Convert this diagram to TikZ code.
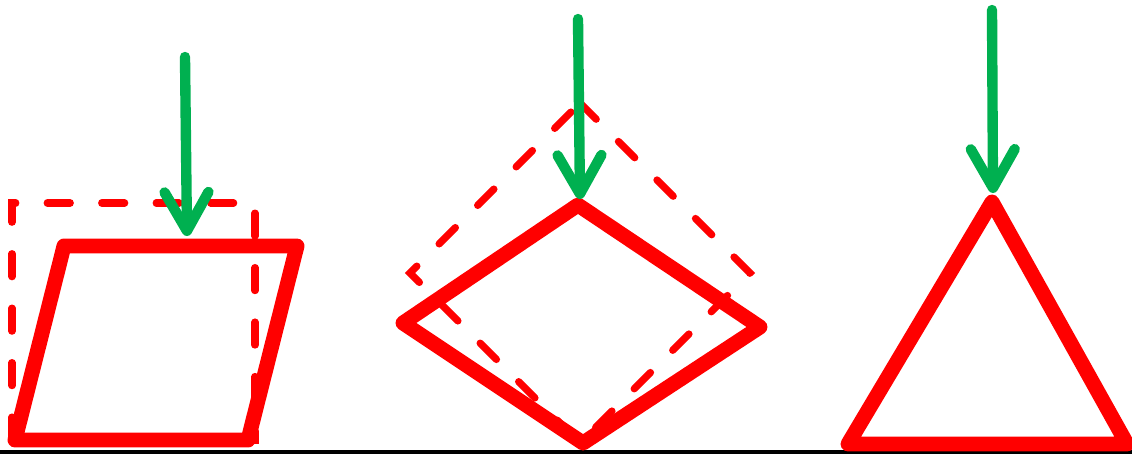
\documentclass[tikz,border=0pt]{standalone}
\usepackage{xcolor}
\usepackage{tikz}
\usetikzlibrary{arrows.meta}
\definecolor{loadgreen}{RGB}{0,176,80}
\definecolor{shapered}{RGB}{255,0,0}

\begin{document}
\begin{tikzpicture}[
  x=0.02cm, y=-0.02cm,
  body/.style={draw=shapered, line width=8.5pt, line join=round, line cap=round},
  ghost/.style={draw=shapered, line width=4.2pt, line cap=round,
                dash pattern=on 13pt off 18pt},
  load/.style={-{Straight Barb[length=22pt, width=25pt, round]},
               line width=5.9pt, color=loadgreen, line cap=round},
  ground/.style={line width=2.3pt, color=black}
]
\useasboundingbox (0,0) rectangle (1132,454);

% Ground
\coordinate (g0) at (0,452);
\coordinate (g1) at (1132,452);
\draw[ground] (g0) -- (g1);

% Square, sheared
\draw[ghost] (12,440) -- (12,203) -- (255,203) -- (255,440) -- cycle;
\draw[body] (15,440) -- (64,246) -- (297,246) -- (248,440) -- cycle;

% Square on its corner, squashed
\draw[ghost] (580,103) -- (750,273) -- (580,443) -- (410,273) -- cycle;
\draw[body] (578,205) -- (760,327) -- (583,443) -- (403,323) -- cycle;

% Triangle
\draw[body] (992,202) -- (1127,444) -- (848,444) -- cycle;

% Loads
\coordinate (s1) at (185,57);  \coordinate (t1) at (187,236);
\coordinate (s2) at (578,19);  \coordinate (t2) at (580,199);
\coordinate (s3) at (992,10);  \coordinate (t3) at (993,193);
\draw[load] (s1) -- (t1);
\draw[load] (s2) -- (t2);
\draw[load] (s3) -- (t3);
\end{tikzpicture}
\end{document}
